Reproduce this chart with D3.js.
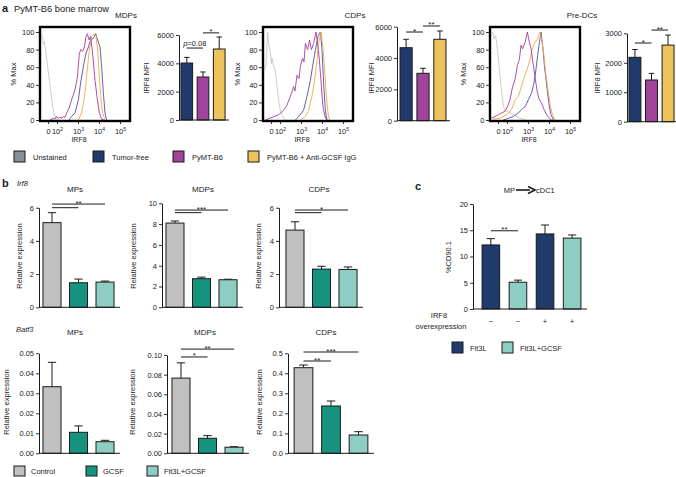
<!DOCTYPE html>
<html><head><meta charset="utf-8">
<script src="https://cdn.jsdelivr.net/npm/d3@7"></script>
<style>body{margin:0;background:#fff}svg{display:block}text{font-family:"Liberation Sans",Arial,Helvetica,sans-serif;fill:#1a1a1a}</style>
</head><body><svg id="c" width="676" height="477"></svg>
<script>
// ---------------- DATA ----------------
const histTitles = ["MDPs", "CDPs", "Pre-DCs"];
const histTickLabels = ["0", "10^2", "10^3", "10^4", "10^5"];
const histTickPos = [1.4, 1.85, 2.9, 3.95, 5.0];   // display-channel position (decades)
const histYTicks = [0, 20, 40, 60, 80, 100];
const aLegend = ["Unstained", "Tumor-free", "PyMT-B6", "PyMT-B6 + Anti-GCSF IgG"];
// histogram series: [channel, % max]
const mdpUnstained = [[1.05,98],[1.13,93],[1.18,86],[1.22,89],[1.3,76],[1.38,61],[1.47,45],[1.55,30],[1.63,15],[1.72,6],[1.83,1],[1.97,0]];
const mdpTumorFree = [[2.45,0],[2.58,4],[2.75,8],[2.92,23],[3.03,42],[3.17,61],[3.3,76],[3.42,83],[3.53,91],[3.67,93],[3.78,98],[3.88,91],[4,83],[4.08,61],[4.17,30],[4.25,8],[4.33,0]];
const mdpPyMT = [[1.5,0],[1.67,2],[1.75,1],[1.83,4],[1.92,2],[2,3],[2.1,2],[2.17,4],[2.25,3],[2.33,8],[2.45,13],[2.58,23],[2.75,34],[2.87,49],[2.97,76],[3.05,80],[3.13,78],[3.22,83],[3.3,95],[3.37,98],[3.45,91],[3.53,95],[3.63,76],[3.75,45],[3.87,23],[3.97,8],[4.08,1],[4.2,0]];
const mdpAnti = [[2.92,0],[3.08,8],[3.2,23],[3.3,42],[3.38,61],[3.47,80],[3.58,95],[3.7,98],[3.8,95],[3.88,80],[3.97,49],[4.05,23],[4.13,8],[4.25,0]];
const cdpUnstained = [[1.07,57],[1.15,61],[1.23,100],[1.28,87],[1.37,76],[1.42,64],[1.45,70],[1.53,61],[1.62,55],[1.7,38],[1.78,23],[1.87,11],[1.98,4],[2.12,0]];
const cdpTumorFree = [[2.62,0],[2.78,4],[3.03,11],[3.2,27],[3.37,45],[3.48,61],[3.62,80],[3.75,95],[3.87,100],[3.95,80],[4.03,42],[4.12,11],[4.2,0]];
const cdpPyMT = [[1.12,0],[1.45,3],[1.78,6],[2.03,11],[2.2,17],[2.37,27],[2.53,38],[2.6,33],[2.7,51],[2.8,47],[2.87,61],[2.98,70],[3.05,66],[3.12,87],[3.23,80],[3.33,91],[3.42,80],[3.53,87],[3.65,100],[3.73,87],[3.82,68],[3.92,38],[4,15],[4.12,2],[4.2,0]];
const cdpAnti = [[2.87,0],[3.12,4],[3.28,11],[3.45,27],[3.58,45],[3.7,68],[3.78,87],[3.9,100],[3.98,87],[4.07,61],[4.17,27],[4.25,8],[4.33,0]];
const predcUnstained = [[1.13,100],[1.2,92],[1.28,96],[1.37,81],[1.47,58],[1.55,38],[1.63,23],[1.72,12],[1.83,10],[2,8],[2.17,6],[2.33,4],[2.5,2],[2.75,0]];
const predcTumorFree = [[1.67,0],[1.92,2],[2.17,4],[2.42,8],[2.58,12],[2.75,15],[2.92,23],[3.08,31],[3.2,42],[3.3,58],[3.38,73],[3.47,88],[3.55,100],[3.63,85],[3.72,62],[3.8,46],[3.88,31],[3.97,15],[4.05,6],[4.17,0]];
const predcPyMT = [[1.08,2],[1.25,4],[1.42,6],[1.58,8],[1.75,10],[1.87,15],[2,23],[2.13,38],[2.25,46],[2.37,62],[2.47,69],[2.55,85],[2.63,81],[2.75,88],[2.87,100],[2.97,88],[3.05,81],[3.17,62],[3.27,46],[3.37,31],[3.47,23],[3.58,19],[3.7,12],[3.83,6],[3.97,2],[4.08,0]];
const predcAnti = [[1.17,1],[1.5,2],[1.83,6],[2.08,12],[2.25,23],[2.42,27],[2.53,35],[2.67,46],[2.8,54],[2.92,62],[3,69],[3.12,81],[3.25,88],[3.37,92],[3.5,100],[3.6,88],[3.7,73],[3.8,50],[3.92,31],[4.03,15],[4.13,6],[4.25,0]];

const aCategories = ["Tumor-free", "PyMT-B6", "PyMT-B6 + Anti-GCSF IgG"];
const mfiMDP = [4020, 3035, 5010], mfiMDPErr = [400, 355, 850];
const mfiCDP = [4660, 3025, 5195], mfiCDPErr = [535, 320, 530];
const mfiPreDC = [2185, 1415, 2600], mfiPreDCErr = [265, 225, 340];
const mfiTicks6000 = [0, 2000, 4000, 6000], mfiTicks3000 = [0, 1000, 2000, 3000];

const bCategories = ["Control", "GCSF", "Flt3L+GCSF"];
const irf8MP = [5.1, 1.48, 1.52], irf8MPErr = [0.6, 0.22, 0.06];
const irf8MDP = [8.1, 2.75, 2.65], irf8MDPErr = [0.2, 0.15, 0.05];
const irf8CDP = [4.65, 2.3, 2.28], irf8CDPErr = [0.5, 0.17, 0.15];
const batf3MP = [0.0333, 0.0105, 0.0058], batf3MPErr = [0.0122, 0.0032, 0.0007];
const batf3MDP = [0.0765, 0.0153, 0.0062], batf3MDPErr = [0.0155, 0.0027, 0.0005];
const batf3CDP = [0.428, 0.2365, 0.0915], batf3CDPErr = [0.0135, 0.025, 0.0165];

const cCategories = ["Flt3L, −", "Flt3L+GCSF, −", "Flt3L, +", "Flt3L+GCSF, +"];
const cLegend = ["Flt3L", "Flt3L+GCSF"];
const cd90 = [12.2, 5.1, 14.3, 13.5], cd90Err = [1.2, 0.4, 1.7, 0.6];
const irf8Overexpression = ["−", "−", "+", "+"];

// ---------------- STYLE ----------------
const colUnst = "#8a8e9b", colTF = "#1f3a6b", colPy = "#a1439b", colAnti = "#efc35b";
const histCols = ["#c6c6c6", "#4f4fa8", "#a53a9f", "#f6a645"];
const bCols = ["#c0c0c0", "#15937f", "#8dcdc3"];
const ink = "#1a1a1a";
const svg = d3.select("#c");
const FS = 7.5;

function styleAxis(sel) {
  sel.selectAll("path.domain").attr("stroke", ink).attr("stroke-width", 1);
  sel.selectAll(".tick line").attr("stroke", ink).attr("stroke-width", 0.9);
  sel.selectAll(".tick text").attr("font-size", FS).attr("fill", ink)
     .attr("font-family", '"Liberation Sans",Arial,sans-serif');
}
function txt(x, y, s, opt = {}) {
  const t = svg.append("text").attr("x", x).attr("y", y).text(s)
    .attr("font-size", opt.size || FS).attr("text-anchor", opt.anchor || "start");
  if (opt.bold) t.attr("font-weight", "bold");
  if (opt.italic) t.attr("font-style", "italic");
  if (opt.rot) t.attr("transform", `rotate(-90,${x},${y})`);
  return t;
}

// ---------------- PANEL A: histograms ----------------
const histData = [
  [mdpUnstained, mdpTumorFree, mdpPyMT, mdpAnti],
  [cdpUnstained, cdpTumorFree, cdpPyMT, cdpAnti],
  [predcUnstained, predcTumorFree, predcPyMT, predcAnti]
];
const histBoxX = [40, 263, 490];
const histYLabX = [16, 240, 466];
const histTitleX = [126, 355, 582];
histData.forEach((series, k) => {
  const bx = histBoxX[k];
  const x = d3.scaleLinear().domain([1, 5.5]).range([bx, bx + 90]);
  const y = d3.scaleLinear().domain([0, 100]).range([120, 32]);
  const line = d3.line().x(d => x(d[0])).y(d => y(d[1]));
  const order = [0, 1, 3, 2];
  order.forEach(i => {
    svg.append("path").attr("d", line(series[i])).attr("fill", "none")
      .attr("stroke", histCols[i]).attr("stroke-width", 0.9);
  });
  svg.append("rect").attr("x", bx).attr("y", 27).attr("width", 90).attr("height", 94)
    .attr("fill", "none").attr("stroke", "#000").attr("stroke-width", 2.4);
  const ya = svg.append("g").attr("transform", `translate(${bx - 1},0)`)
    .call(d3.axisLeft(y).tickValues(histYTicks).tickSize(3).tickPadding(1.5)).call(styleAxis);
  ya.select("path.domain").remove();
  const xa = svg.append("g").attr("transform", `translate(0,122)`)
    .call(d3.axisBottom(x).tickValues(histTickPos).tickSize(2).tickPadding(4.5)).call(styleAxis);
  xa.select("path.domain").remove();
  xa.selectAll(".tick text").each(function (d, i) {
    const s = histTickLabels[i].split("^");
    const t = d3.select(this).text(s[0]);
    if (s[1]) t.append("tspan").attr("dy", -3).attr("font-size", 5).text(s[1]);
  });
  txt(histYLabX[k], 74, "% Max", { anchor: "middle", rot: true });
  txt(bx + 39, 142, "IRF8", { anchor: "middle", size: 7 });
  txt(histTitleX[k], 18, histTitles[k], { anchor: "middle", size: 8 });
});

// ---------------- bar chart helper ----------------
function barChart(cfg) {
  const cats = cfg.cats;
  const x = d3.scaleBand().domain(cats).range(cfg.band)
    .paddingInner(cfg.pi ?? 0.32).paddingOuter(cfg.po ?? 0.15);
  const y = d3.scaleLinear().domain([0, cfg.max]).range([cfg.y0, cfg.yTop]);
  const bw = x.bandwidth();
  const cx = i => x(cats[i]) + bw / 2;
  cfg.vals.forEach((v, i) => {
    const e = cfg.errs[i];
    svg.append("line").attr("x1", cx(i)).attr("x2", cx(i)).attr("y1", y(v)).attr("y2", y(v + e))
      .attr("stroke", ink).attr("stroke-width", 1);
    svg.append("line").attr("x1", cx(i) - bw * 0.23).attr("x2", cx(i) + bw * 0.23)
      .attr("y1", y(v + e)).attr("y2", y(v + e)).attr("stroke", ink).attr("stroke-width", 1);
    svg.append("rect").attr("x", x(cats[i])).attr("y", y(v)).attr("width", bw)
      .attr("height", cfg.y0 - y(v)).attr("fill", cfg.colors[i])
      .attr("stroke", ink).attr("stroke-width", 1);
  });
  svg.append("g").attr("transform", `translate(${cfg.axisX},0)`)
    .call(d3.axisLeft(y).tickValues(cfg.ticks).tickFormat(d3.format(cfg.fmt))
      .tickSize(3).tickSizeOuter(0).tickPadding(2)).call(styleAxis);
  svg.append("line").attr("x1", cfg.axisX).attr("x2", cfg.band[1] + 2)
    .attr("y1", cfg.y0).attr("y2", cfg.y0).attr("stroke", ink).attr("stroke-width", 1);
  (cfg.sig || []).forEach(s => {
    const yy = y(s.v);
    svg.append("line").attr("x1", cx(s.a)).attr("x2", cx(s.b)).attr("y1", yy).attr("y2", yy)
      .attr("stroke", ink).attr("stroke-width", 1);
    const mx = (cx(s.a) + cx(s.b)) / 2;
    if (s.t.startsWith("p")) {
      const t = txt(mx, yy - 2.5, "", { anchor: "middle", size: 7.5 });
      t.append("tspan").attr("font-style", "italic").text("p");
      t.append("tspan").text("=0.08");
    } else if (s.t) {
      txt(mx, yy + 1.5, s.t, { anchor: "middle", size: 8 });
    }
  });
  if (cfg.ylab) txt(cfg.ylab[0], cfg.ylab[1], cfg.ylab[2], { anchor: "middle", rot: true });
  if (cfg.title) txt(cfg.title[0], cfg.title[1], cfg.title[2], { anchor: "middle", size: 8 });
  return { x, y, cx };
}

const aCols = [colTF, colPy, colAnti];
barChart({ cats: aCategories, vals: mfiMDP, errs: mfiMDPErr, colors: aCols, band: [179, 227], pi: 0.28, po: 0.12,
  axisX: 179, y0: 120, yTop: 35, max: 6000, ticks: mfiTicks6000, fmt: "d", ylab: [149, 78, "IRF8 MFI"],
  sig: [{ a: 0, b: 1, v: 5080, t: "p=0.08" }, { a: 1, b: 2, v: 6150, t: "*" }] });
barChart({ cats: aCategories, vals: mfiCDP, errs: mfiCDPErr, colors: aCols, band: [398, 448], pi: 0.28, po: 0.12,
  axisX: 397, y0: 120.7, yTop: 26.7, max: 6000, ticks: mfiTicks6000, fmt: "d", ylab: [374, 78, "IRF8 MFI"],
  sig: [{ a: 0, b: 1, v: 5660, t: "*" }, { a: 1, b: 2, v: 6045, t: "**" }] });
barChart({ cats: aCategories, vals: mfiPreDC, errs: mfiPreDCErr, colors: aCols, band: [627, 676], pi: 0.28, po: 0.12,
  axisX: 627, y0: 121.7, yTop: 33.3, max: 3000, ticks: mfiTicks3000, fmt: "d", ylab: [600, 78, "IRF8 MFI"],
  sig: [{ a: 0, b: 1, v: 2670, t: "*" }, { a: 1, b: 2, v: 3110, t: "**" }] });

txt(2, 12, "a", { bold: true, size: 11 });
txt(14, 12, "PyMT-B6 bone marrow", { size: 9.3 });

// legend a
const aLegCols = [colUnst, colTF, colPy, colAnti];
const aLegX = [14, 93, 173, 248];
aLegend.forEach((s, i) => {
  svg.append("rect").attr("x", aLegX[i]).attr("y", 151).attr("width", 11).attr("height", 11)
    .attr("fill", aLegCols[i]).attr("stroke", ink).attr("stroke-width", 1);
  txt(aLegX[i] + 19, 159.5, s, { size: 7.5 });
});

// ---------------- PANEL B ----------------
txt(2, 187, "b", { bold: true, size: 11 });
txt(17, 186, "Irf8", { italic: true, size: 7.5 });
txt(16, 332, "Batf3", { italic: true, size: 7.5 });
barChart({ cats: bCategories, vals: irf8MP, errs: irf8MPErr, colors: bCols, band: [39, 118],
  axisX: 39, y0: 307.3, yTop: 207.7, max: 6, ticks: [0, 2, 4, 6], fmt: "d",
  ylab: [22, 256, "Relative expression"], title: [75, 192, "MPs"],
  sig: [{ a: 0, b: 1, v: 6.0, t: "" }, { a: 0, b: 2, v: 6.22, t: "**" }] });
barChart({ cats: bCategories, vals: irf8MDP, errs: irf8MDPErr, colors: bCols, band: [162, 241],
  axisX: 162, y0: 307.3, yTop: 203.3, max: 10, ticks: [0, 2, 4, 6, 8, 10], fmt: "d",
  ylab: [136, 256, "Relative expression"], title: [203, 192, "MDPs"],
  sig: [{ a: 0, b: 1, v: 9.1, t: "" }, { a: 0, b: 2, v: 9.35, t: "***" }] });
barChart({ cats: bCategories, vals: irf8CDP, errs: irf8CDPErr, colors: bCols, band: [282, 361],
  axisX: 279, y0: 307.3, yTop: 207.7, max: 6, ticks: [0, 2, 4, 6], fmt: "d",
  ylab: [261, 256, "Relative expression"], title: [319, 192, "CDPs"],
  sig: [{ a: 0, b: 1, v: 5.7, t: "" }, { a: 0, b: 2, v: 5.86, t: "*" }] });
barChart({ cats: bCategories, vals: batf3MP, errs: batf3MPErr, colors: bCols, band: [39, 118],
  axisX: 39, y0: 453.3, yTop: 353.3, max: 0.05, ticks: [0, 0.01, 0.02, 0.03, 0.04, 0.05], fmt: ".2f",
  ylab: [9, 402, "Relative expression"], title: [75, 335, "MPs"] });
barChart({ cats: bCategories, vals: batf3MDP, errs: batf3MDPErr, colors: bCols, band: [168, 247],
  axisX: 167, y0: 453.3, yTop: 355, max: 0.10, ticks: [0, 0.02, 0.04, 0.06, 0.08, 0.10], fmt: ".2f",
  ylab: [135, 402, "Relative expression"], title: [205, 335, "MDPs"],
  sig: [{ a: 0, b: 1, v: 0.098, t: "*" }, { a: 0, b: 2, v: 0.106, t: "**" }] });
barChart({ cats: bCategories, vals: batf3CDP, errs: batf3CDPErr, colors: bCols, band: [290, 372],
  axisX: 288, y0: 453.3, yTop: 353.3, max: 0.5, ticks: [0, 0.1, 0.2, 0.3, 0.4, 0.5], fmt: ".1f",
  ylab: [262, 402, "Relative expression"], title: [326, 335, "CDPs"],
  sig: [{ a: 0, b: 1, v: 0.4615, t: "**" }, { a: 0, b: 2, v: 0.5065, t: "***" }] });

const bLegX = [14, 86, 147];
bCategories.forEach((s, i) => {
  svg.append("rect").attr("x", bLegX[i]).attr("y", 466).attr("width", 11).attr("height", 10)
    .attr("fill", bCols[i]).attr("stroke", ink).attr("stroke-width", 1);
  txt(bLegX[i] + 17, 474, s, { size: 7.5 });
});

// ---------------- PANEL C ----------------
txt(415, 190, "c", { bold: true, size: 11 });
txt(515, 193, "MP", { anchor: "end", size: 7.5 });
svg.append("line").attr("x1", 516).attr("x2", 530).attr("y1", 190).attr("y2", 190)
  .attr("stroke", ink).attr("stroke-width", 1.6);
svg.append("path").attr("d", "M528,186.5 L535,190 L528,193.5").attr("fill", "none")
  .attr("stroke", ink).attr("stroke-width", 1.6);
txt(536, 193, "cDC1", { size: 7.5 });
const cCols = [colTF, bCols[2], colTF, bCols[2]];
const cc = barChart({ cats: cCategories, vals: cd90, errs: cd90Err, colors: cCols, band: [478, 585], pi: 0.35, po: 0.15,
  axisX: 473, y0: 309, yTop: 204, max: 20, ticks: [0, 5, 10, 15, 20], fmt: "d",
  ylab: [451, 257, "%CD90.1"],
  sig: [{ a: 0, b: 1, v: 14.9, t: "**" }] });
irf8Overexpression.forEach((s, i) => txt(cc.cx(i), 324, s, { anchor: "middle", size: 7.5 }));
txt(439, 318, "IRF8", { anchor: "middle", size: 7.5 });
txt(441, 329, "overexpression", { anchor: "middle", size: 7.5 });
const cLegX = [452, 502];
cLegend.forEach((s, i) => {
  svg.append("rect").attr("x", cLegX[i]).attr("y", 342).attr("width", 11).attr("height", 11)
    .attr("fill", [colTF, bCols[2]][i]).attr("stroke", ink).attr("stroke-width", 1);
  txt(cLegX[i] + 18, 350.5, s, { size: 7.5 });
});
</script></body></html>
